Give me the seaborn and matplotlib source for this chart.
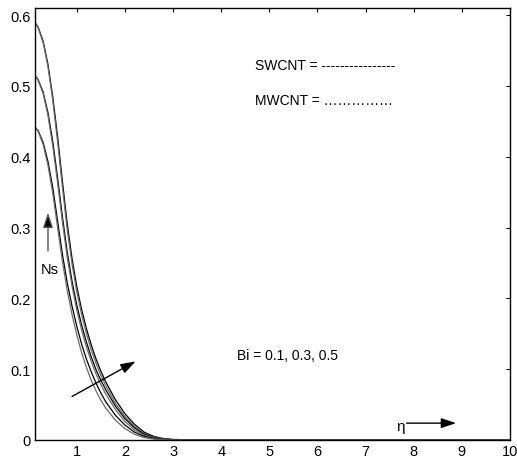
import numpy as np
import pandas as pd
import matplotlib
matplotlib.use("Agg")
import matplotlib.pyplot as plt
import seaborn as sns

eta = [0.13, 0.2, 0.3, 0.4, 0.5, 0.6, 0.7, 0.8, 0.9, 1.0, 1.1, 1.2, 1.3, 1.4, 1.5, 1.6,
       1.8, 2.0, 2.2, 2.4, 2.6, 2.8, 3.0, 3.5, 10.0]

swcnt_bi05 = [0.590, 0.582, 0.563, 0.530, 0.484, 0.428, 0.365, 0.305, 0.256, 0.216, 0.184, 0.157, 0.134,
              0.114, 0.097, 0.082, 0.057, 0.037, 0.022, 0.011, 0.005, 0.002, 0.0008, 0.0001, 0.0]
mwcnt_bi05 = [0.590, 0.581, 0.561, 0.527, 0.479, 0.421, 0.357, 0.297, 0.248, 0.209, 0.177, 0.150, 0.127,
              0.108, 0.091, 0.077, 0.052, 0.033, 0.019, 0.009, 0.004, 0.0015, 0.0005, 0.0001, 0.0]
swcnt_bi03 = [0.515, 0.508, 0.491, 0.462, 0.421, 0.370, 0.315, 0.265, 0.224, 0.190, 0.162, 0.138, 0.117,
              0.099, 0.084, 0.071, 0.048, 0.030, 0.017, 0.008, 0.0035, 0.0013, 0.0004, 0.0, 0.0]
mwcnt_bi03 = [0.515, 0.507, 0.489, 0.458, 0.415, 0.363, 0.308, 0.258, 0.217, 0.183, 0.155, 0.131, 0.111,
              0.093, 0.078, 0.065, 0.043, 0.026, 0.014, 0.0065, 0.0028, 0.001, 0.0003, 0.0, 0.0]
swcnt_bi01 = [0.442, 0.436, 0.420, 0.393, 0.356, 0.309, 0.262, 0.222, 0.189, 0.160, 0.135, 0.114, 0.096,
              0.080, 0.066, 0.054, 0.035, 0.021, 0.011, 0.005, 0.002, 0.0007, 0.0002, 0.0, 0.0]
mwcnt_bi01 = [0.442, 0.435, 0.417, 0.388, 0.348, 0.300, 0.252, 0.211, 0.177, 0.148, 0.123, 0.102, 0.084,
              0.069, 0.056, 0.045, 0.028, 0.016, 0.008, 0.0035, 0.0014, 0.0005, 0.0001, 0.0, 0.0]

series = {
    "SWCNT Bi=0.5": swcnt_bi05, "MWCNT Bi=0.5": mwcnt_bi05,
    "SWCNT Bi=0.3": swcnt_bi03, "MWCNT Bi=0.3": mwcnt_bi03,
    "SWCNT Bi=0.1": swcnt_bi01, "MWCNT Bi=0.1": mwcnt_bi01,
}

xticks = [1, 2, 3, 4, 5, 6, 7, 8, 9, 10]
yticks = [0, 0.1, 0.2, 0.3, 0.4, 0.5, 0.6]
yticklabels = ["0", "0.1", "0.2", "0.3", "0.4", "0.5", "0.6"]

rows = []
for name, vals in series.items():
    for e, v in zip(eta, vals):
        rows.append({"eta": e, "val": v, "curve": name})
df = pd.DataFrame(rows)

sns.set_style("white")
plt.rcParams['font.family'] = ['Liberation Sans', 'DejaVu Sans']
plt.rcParams['text.color'] = 'black'

fig = plt.figure(figsize=(5.17, 4.64), dpi=100)
ax = fig.add_axes([35/517, 23/464, 475/517, 432/464])

palette = {k: ("black" if k.startswith("SWCNT") else "#6a6a6a") for k in series}
sns.lineplot(data=df, x="eta", y="val", hue="curve", palette=palette, ax=ax,
             linewidth=0.9, legend=False)

ax.set_xlim(0.13, 10)
ax.set_ylim(0, 0.61)
ax.set_xticks(xticks)
ax.set_xticklabels([str(t) for t in xticks])
ax.set_yticks(yticks)
ax.set_yticklabels(yticklabels)
ax.set_xlabel("")
ax.set_ylabel("")
ax.tick_params(direction="in", length=3, width=0.8, top=True, right=True,
               labelsize=10.5, pad=3, colors="black", labelcolor="black")
for s in ax.spines.values():
    s.set_color("black")
    s.set_linewidth(1.0)

ax.text(4.70, 0.529, "SWCNT = ----------------", fontsize=10, va="center", ha="left", color="black")
ax.text(4.70, 0.480, "MWCNT = ……………", fontsize=10, va="center", ha="left", color="black")

ax.annotate("", xy=(0.40, 0.321), xytext=(0.40, 0.267),
            arrowprops=dict(arrowstyle="-|>,head_length=0.9,head_width=0.3",
                            ec="#555555", fc="black", lw=1.0, shrinkA=0, shrinkB=0))
ax.text(0.43, 0.242, "Ns", fontsize=10.5, ha="center", va="center", color="black")

ax.annotate("", xy=(2.22, 0.111), xytext=(0.90, 0.0615),
            arrowprops=dict(arrowstyle="-|>,head_length=0.9,head_width=0.3",
                            color="black", lw=1.0, shrinkA=0, shrinkB=0))
ax.text(4.32, 0.120, "Bi = 0.1, 0.3, 0.5", fontsize=10, ha="left", va="center", color="black")

ax.text(7.72, 0.020, "η", fontsize=11, ha="center", va="center", color="black")
ax.annotate("", xy=(8.88, 0.0238), xytext=(7.85, 0.0238),
            arrowprops=dict(arrowstyle="-|>,head_length=0.9,head_width=0.3",
                            color="black", lw=1.0, shrinkA=0, shrinkB=0))

fig.savefig("out.png", dpi=100)
